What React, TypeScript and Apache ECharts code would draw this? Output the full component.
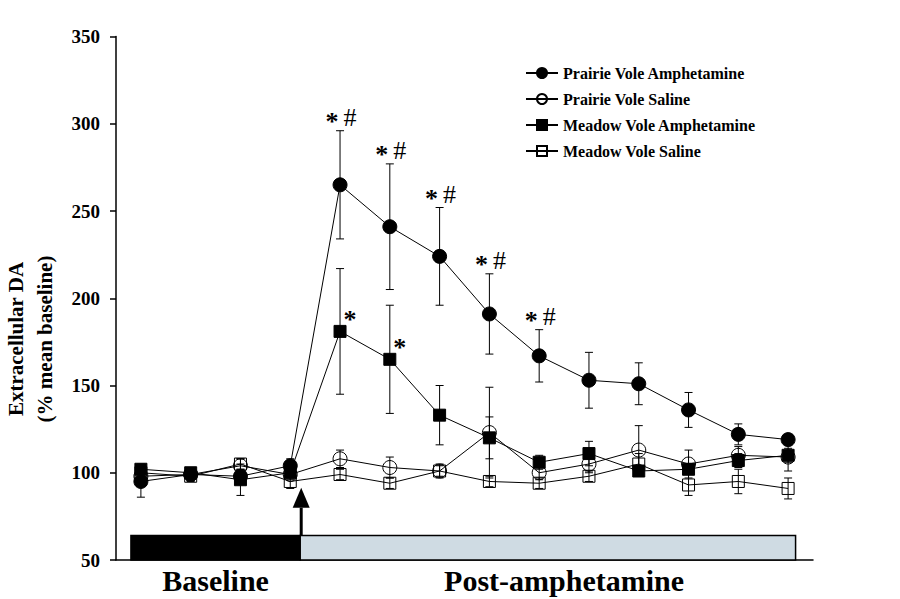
import React, { useEffect, useRef } from 'react';
import * as echarts from 'echarts';

// sample index (14 consecutive microdialysis samples)
const sampleIndex = [0, 1, 2, 3, 4, 5, 6, 7, 8, 9, 10, 11, 12, 13];

const seriesNames = [
  'Prairie Vole Amphetamine',
  'Prairie Vole Saline',
  'Meadow Vole Amphetamine',
  'Meadow Vole Saline',
];

const pvAmph = [95, 99, 98, 104, 265, 241, 224, 191, 167, 153, 151, 136, 122, 119];
const pvAmphErr = [9, 3, 4, 4, 31, 36, 28, 23, 15, 16, 12, 10, 6, 3];
const pvSal = [98, 99, 104, 99, 108, 103, 101, 123, 100, 105, 113, 105, 110, 109];
const pvSalErr = [4, 3, 4, 3, 5, 6, 3, 26, 4, 5, 14, 8, 5, 8];
const mvAmph = [102, 100, 96, 100, 181, 165, 133, 120, 106, 111, 101, 102, 107, 110];
const mvAmphErr = [3, 3, 9, 3, 36, 31, 17, 12, 4, 7, 3, 3, 4, 4];
const mvSal = [100, 98, 105, 95, 99, 94, 101, 95, 94, 98, 105, 93, 95, 91];
const mvSalErr = [3, 3, 3, 4, 3, 3, 4, 3, 3, 3, 6, 6, 7, 6];

// significance marks
const starHashIdx = [4, 5, 6, 7, 8]; // "*#" on prairie vole amphetamine
const starIdx = [4, 5]; // "*" on meadow vole amphetamine

// phase bars
const phaseLabels = ['Baseline', 'Post-amphetamine'];
const phaseStart = [-0.2, 3.2];
const phaseEnd = [3.2, 13.15];
const phaseLabelX = [1.5, 8.5];
const phaseTop = 64;
const phaseColors = ['#000000', '#cfdbe3'];

// amphetamine injection arrow
const arrowX = 3.22;
const arrowTip = 91.4;

const yTicks = [50, 100, 150, 200, 250, 300, 350];

const FONT = '"Liberation Serif", "Times New Roman", serif';

function lineSeries(name: string, means: number[], filled: boolean, symbol: string, size: number) {
  return {
    type: 'line',
    name,
    data: means.map((m, i) => [sampleIndex[i], m]),
    symbol,
    symbolSize: size,
    showSymbol: true,
    lineStyle: { color: '#000', width: 1 },
    itemStyle: {
      color: filled ? '#000' : 'rgba(255,255,255,0)',
      borderColor: '#000',
      borderWidth: 1,
    },
    z: 3,
  };
}

function errorSeries(name: string, means: number[], errs: number[]) {
  return {
    type: 'custom',
    name: name + ' SEM',
    data: means.map((m, i) => [sampleIndex[i], m - errs[i], m + errs[i]]),
    encode: { x: 0, y: [1, 2] },
    renderItem: (params: any, api: any) => {
      const x = api.value(0);
      const lo = api.coord([x, api.value(1)]);
      const hi = api.coord([x, api.value(2)]);
      const hw = 4;
      const st = { stroke: '#000', lineWidth: 1 };
      return {
        type: 'group',
        children: [
          { type: 'line', shape: { x1: lo[0], y1: lo[1], x2: hi[0], y2: hi[1] }, style: st },
          { type: 'line', shape: { x1: hi[0] - hw, y1: hi[1], x2: hi[0] + hw, y2: hi[1] }, style: st },
          { type: 'line', shape: { x1: lo[0] - hw, y1: lo[1], x2: lo[0] + hw, y2: lo[1] }, style: st },
        ],
      };
    },
    z: 4,
  };
}

export default function App() {
  const ref = useRef<HTMLDivElement>(null);
  useEffect(() => {
    const chart = echarts.init(ref.current!, null, { renderer: 'svg' });
    const option: any = {
      animation: false,
      backgroundColor: '#fff',
      grid: { left: 116, right: 87, top: 36.5, bottom: 39 },
      xAxis: {
        type: 'value',
        min: -0.5,
        max: 13.5,
        axisLine: { show: true, onZero: false, lineStyle: { color: '#000', width: 1.5 } },
        axisTick: { show: false },
        axisLabel: { show: false },
        splitLine: { show: false },
      },
      yAxis: {
        type: 'value',
        min: yTicks[0],
        max: yTicks[yTicks.length - 1],
        interval: 50,
        axisLine: { show: true, onZero: false, lineStyle: { color: '#000', width: 1.5 } },
        axisTick: { show: true, length: 6, lineStyle: { color: '#000', width: 1.5 } },
        axisLabel: {
          margin: 16,
          color: '#000',
          fontFamily: FONT,
          fontWeight: 'bold',
          fontSize: 19,
        },
        splitLine: { show: false },
      },
      legend: {
        orient: 'vertical',
        left: 520,
        top: 60,
        itemWidth: 32,
        itemHeight: 12.5,
        itemGap: 10,
        data: seriesNames,
        textStyle: { color: '#000', fontFamily: FONT, fontWeight: 'bold', fontSize: 16 },
      },
      graphic: [
        {
          type: 'text',
          x: 30,
          y: 339,
          rotation: Math.PI / 2,
          style: {
            text: 'Extracellular DA\n(% mean baseline)',
            font: 'bold 21px ' + FONT,
            lineHeight: 29,
            fill: '#000',
            align: 'center',
            verticalAlign: 'middle',
          },
        },
      ],
      series: [
        {
          type: 'custom',
          name: 'phases',
          data: phaseLabels.map((l, i) => [phaseStart[i], phaseEnd[i], phaseLabelX[i], i]),
          encode: { x: [0, 1], y: -1 },
          clip: false,
          renderItem: (params: any, api: any) => {
            const i = params.dataIndex;
            const p0 = api.coord([api.value(0), yTicks[0]]);
            const p1 = api.coord([api.value(1), phaseTop]);
            const pl = api.coord([api.value(2), yTicks[0]]);
            return {
              type: 'group',
              children: [
                {
                  type: 'rect',
                  shape: { x: p0[0], y: p1[1], width: p1[0] - p0[0], height: p0[1] - p1[1] },
                  style: { fill: phaseColors[i], stroke: '#000', lineWidth: 1.5 },
                },
                {
                  type: 'text',
                  x: pl[0],
                  y: pl[1] + 20,
                  style: {
                    text: phaseLabels[i],
                    font: 'bold 30px ' + FONT,
                    fill: '#000',
                    align: 'center',
                    verticalAlign: 'middle',
                  },
                },
              ],
            };
          },
          z: 1,
        },
        {
          type: 'custom',
          name: 'injection',
          data: [[arrowX, phaseTop, arrowTip]],
          encode: { x: 0, y: [1, 2] },
          clip: false,
          renderItem: (params: any, api: any) => {
            const b = api.coord([api.value(0), api.value(1)]);
            const t = api.coord([api.value(0), api.value(2)]);
            const hh = 20;
            const hw = 8.5;
            return {
              type: 'group',
              children: [
                { type: 'line', shape: { x1: b[0], y1: b[1], x2: t[0], y2: t[1] + hh }, style: { stroke: '#000', lineWidth: 3 } },
                {
                  type: 'polygon',
                  shape: { points: [[t[0], t[1]], [t[0] - hw, t[1] + hh], [t[0] + hw, t[1] + hh]] },
                  style: { fill: '#000' },
                },
              ],
            };
          },
          z: 2,
        },
        lineSeries(seriesNames[0], pvAmph, true, 'circle', 14),
        lineSeries(seriesNames[1], pvSal, false, 'circle', 14),
        lineSeries(seriesNames[2], mvAmph, true, 'rect', 12),
        lineSeries(seriesNames[3], mvSal, false, 'rect', 12),
        errorSeries(seriesNames[0], pvAmph, pvAmphErr),
        errorSeries(seriesNames[1], pvSal, pvSalErr),
        errorSeries(seriesNames[2], mvAmph, mvAmphErr),
        errorSeries(seriesNames[3], mvSal, mvSalErr),
        {
          type: 'custom',
          name: 'sig PV',
          data: starHashIdx.map((i) => [sampleIndex[i], pvAmph[i] + pvAmphErr[i]]),
          encode: { x: 0, y: 1 },
          renderItem: (params: any, api: any) => {
            const p = api.coord([api.value(0), api.value(1)]);
            return {
              type: 'text',
              x: p[0] + 1,
              y: p[1] - 13,
              style: {
                text: '{a|*}{b|#}',
                fill: '#000',
                align: 'center',
                verticalAlign: 'middle',
                rich: {
                  a: { font: 'bold 26px ' + FONT, fill: '#000', padding: [8, 5, 0, 0] },
                  b: { font: '26px ' + FONT, fill: '#000' },
                },
              },
            };
          },
          z: 5,
        },
        {
          type: 'custom',
          name: 'sig MV',
          data: starIdx.map((i) => [sampleIndex[i], mvAmph[i]]),
          encode: { x: 0, y: 1 },
          renderItem: (params: any, api: any) => {
            const p = api.coord([api.value(0), api.value(1)]);
            return {
              type: 'text',
              x: p[0] + 10,
              y: p[1] - 12,
              style: { text: '*', font: 'bold 26px ' + FONT, fill: '#000', align: 'center', verticalAlign: 'middle' },
            };
          },
          z: 5,
        },
      ],
    };
    chart.setOption(option);
    return () => chart.dispose();
  }, []);
  return <div ref={ref} style={{ position: 'fixed', left: 0, top: 0, width: 900, height: 599 }} />;
}
